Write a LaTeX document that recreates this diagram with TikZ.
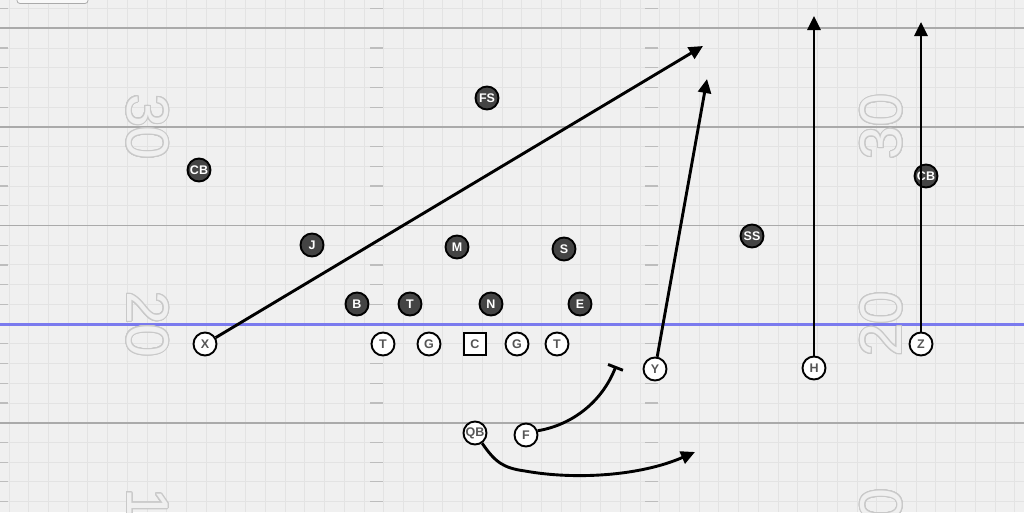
\documentclass[tikz,border=0pt]{standalone}
\usepackage{fontspec}
\setsansfont{Liberation Sans}
\usepackage[copies]{contour}
\usetikzlibrary{arrows.meta}
\definecolor{bg}{HTML}{F0F0F0}
\definecolor{gridc}{HTML}{E3E3E3}
\definecolor{yardc}{HTML}{AAAAAA}
\definecolor{losc}{HTML}{7A7AEE}
\definecolor{numc}{HTML}{C9C9C9}
\definecolor{defc}{HTML}{444444}
\definecolor{offtxt}{HTML}{555555}
\definecolor{hashc}{HTML}{BDBDBD}
\contourlength{1.0pt}
\contournumber{24}
\begin{document}
\begin{tikzpicture}[x=1pt,y=-1pt,
  lbl/.style={font=\sffamily\bfseries\fontsize{12.5}{12.5}\selectfont},
  off/.style={lbl,circle,draw=black,line width=1.9pt,fill=white,minimum size=23pt,inner sep=0pt,text=offtxt},
  offsq/.style={off,rectangle,minimum size=22.5pt},
  def/.style={lbl,circle,draw=black,line width=1.9pt,fill=defc,minimum size=23pt,inner sep=0pt,text=white},
  route/.style={line width=2.9pt,-{Triangle[length=14pt,width=13pt]}},
  blockroute/.style={line width=2.9pt,-{Bar[width=16pt,line width=2.9pt]}},
  yardnum/.style={font=\sffamily\fontsize{59}{59}\selectfont,inner sep=0pt},
  gridline/.style={gridc,line width=0.9pt},
  yardline/.style={yardc,line width=1.8pt},
  hash/.style={hashc,line width=1.2pt}
]
\useasboundingbox (0,0) rectangle (1024,512);
\fill[bg] (0,0) rectangle (1024,512);
% grid
\foreach \i in {0,...,51} \draw[gridline] ({9+19.72*\i},0) -- ++(0,512);
\foreach \j in {0,...,25} \draw[gridline] (0,{8.58+19.72*\j}) -- ++(1024,0);
% hash marks
\foreach \j in {0,...,25} {
  \draw[hash] (0,{8.58+19.72*\j}) -- ++(8,0);
  \draw[hash] (370,{8.58+19.72*\j}) -- ++(13,0);
  \draw[hash] (645,{8.58+19.72*\j}) -- ++(13,0);
}
% yard lines
\foreach \k in {0,...,4} \draw[yardline] (0,{28.3+98.6*\k}) -- ++(1024,0);
\draw[losc,line width=3pt] (0,324.1) -- (1024,324.1);
% yard numbers
\node[yardnum,rotate=-90] (n30l) at (147,126.9) {\contour{numc}{\textcolor{bg}{30}}};
\node[yardnum,rotate=-90] (n20l) at (147,324.1) {\contour{numc}{\textcolor{bg}{20}}};
\node[yardnum,rotate=-90] (n10l) at (147,521.3) {\contour{numc}{\textcolor{bg}{10}}};
\node[yardnum,rotate=90] (n30r) at (882,126.9) {\contour{numc}{\textcolor{bg}{30}}};
\node[yardnum,rotate=90] (n20r) at (882,324.1) {\contour{numc}{\textcolor{bg}{20}}};
\node[yardnum,rotate=90] (n10r) at (882,521.3) {\contour{numc}{\textcolor{bg}{10}}};
% top-left tab
\draw[yardc,line width=0.8pt,fill=white!50!bg,rounded corners=3pt] (17,-8) rectangle (88,3.5);
% defense
\node[def] (CBl) at (199,170) {CB};
\node[def] (FS) at (487,98) {FS};
\node[def] (J) at (312,245) {J};
\node[def] (M) at (457,247) {M};
\node[def] (S) at (564,249) {S};
\node[def] (SS) at (752,236) {SS};
\node[def] (B) at (357,304) {B};
\node[def] (DT) at (410,304) {T};
\node[def] (N) at (491,304) {N};
\node[def] (E) at (580,304) {E};
\node[def] (CBr) at (926,176) {CB};
% offense
\node[off] (X) at (205,344) {X};
\node[off] (LT) at (383,344) {T};
\node[off] (LG) at (429,344) {G};
\node[offsq] (C) at (475,344) {C};
\node[off] (RG) at (517,344) {G};
\node[off] (RT) at (557,344) {T};
\node[off] (Y) at (655,369) {Y};
\node[off] (H) at (814,368) {H};
\node[off] (Z) at (921,344) {Z};
\node[off] (QB) at (475,433) {QB};
\node[off] (F) at (526,435) {F};
% route ends
\coordinate (xend) at (703,46);
\coordinate (yend) at (707,79);
\coordinate (hend) at (814,16);
\coordinate (zend) at (921,22);
\coordinate (fend) at (616,366);
\coordinate (qbend) at (695,452);
% routes
\draw[route] (X) -- (xend);
\draw[route] (Y) -- (yend);
\draw[route] (H) -- (hend);
\draw[route] (Z) -- (zend);
\draw[blockroute] (F.20) .. controls (572,425) and (602,402) .. (fend);
\draw[route] (QB.-55) .. controls (495,462) and (503,468) .. (525,471)
  .. controls (575,480) and (640,476) .. (qbend);
\end{tikzpicture}
\end{document}
